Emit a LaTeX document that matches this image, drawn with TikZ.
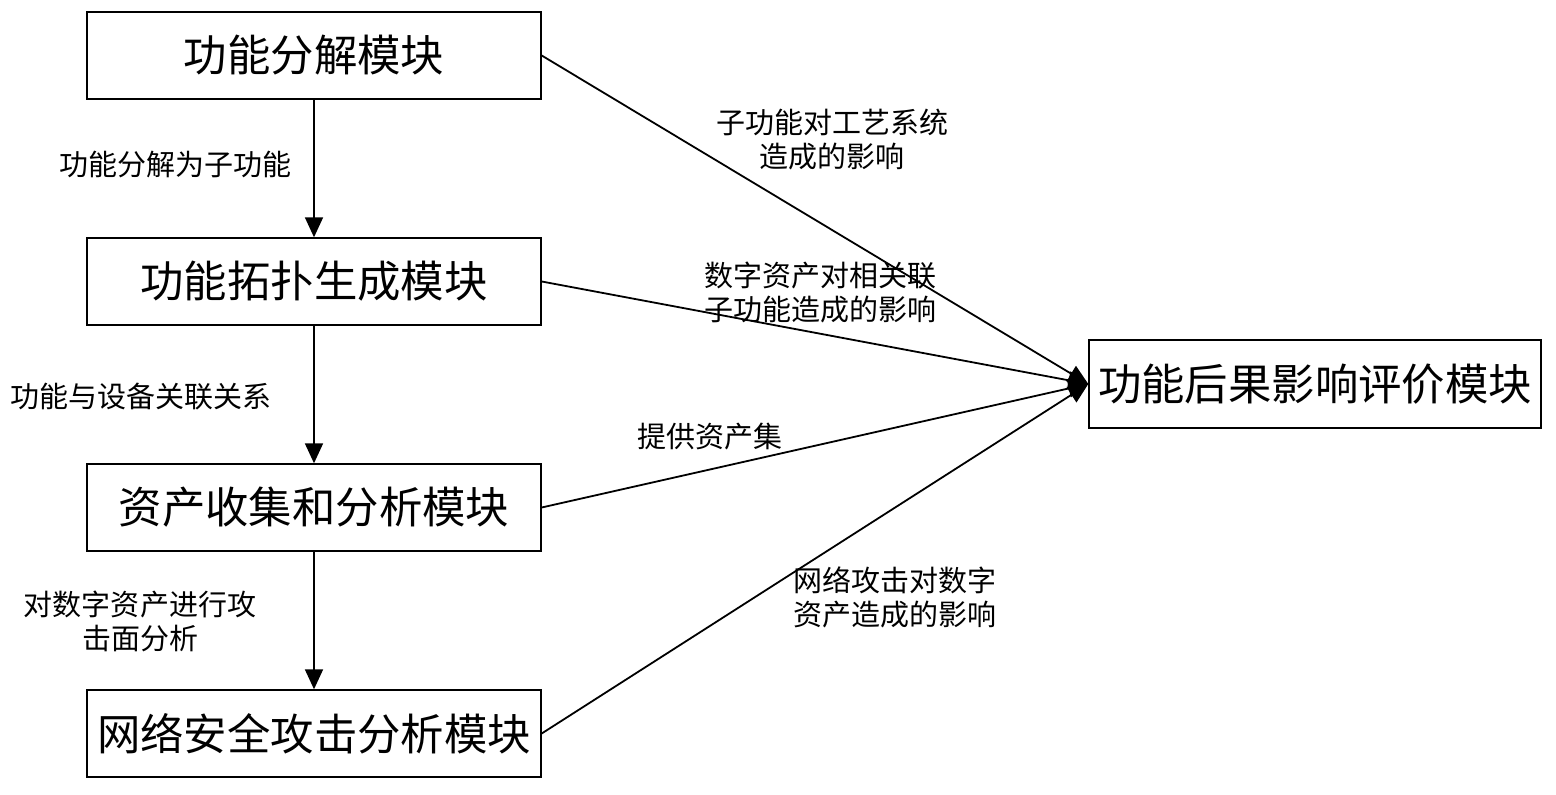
\documentclass[tikz,border=0pt]{standalone}
\usepackage{fontspec}
\newfontfamily\cjk{Noto Sans CJK SC}
\usetikzlibrary{arrows.meta}
\begin{document}
\begin{tikzpicture}[x=0.5pt,y=-0.5pt,
  box/.style={draw,line width=0.7pt,minimum width=227pt,minimum height=43.5pt,inner sep=0pt,font=\cjk\fontsize{21.7pt}{24pt}\selectfont},
  lbl/.style={font=\cjk\fontsize{14.5pt}{17pt}\selectfont,align=center,inner sep=0pt},
  arr/.style={line width=0.9pt,-{Triangle[width=9pt,length=10pt]}}]
\useasboundingbox (0,0) rectangle (1556,795);
\node[box] (a) at (314,55.5) {功能分解模块};
\node[box] (b) at (314,281.5) {功能拓扑生成模块};
\node[box] (c) at (314,507.5) {资产收集和分析模块};
\node[box] (d) at (314,733.5) {网络安全攻击分析模块};
\node[box,minimum width=226pt,minimum height=44pt] (e) at (1315,384) {功能后果影响评价模块};
\draw[arr] (a) -- (b);
\draw[arr] (b) -- (c);
\draw[arr] (c) -- (d);
\draw[arr] (a.east) -- (e.west);
\draw[arr] (b.east) -- (e.west);
\draw[arr] (c.east) -- (e.west);
\draw[arr] (d.east) -- (e.west);
\node[lbl] (l1) at (175,165) {功能分解为子功能};
\node[lbl] (l2) at (141,397) {功能与设备关联关系};
\node[lbl] (l3) at (140,621) {对数字资产进行攻\\击面分析};
\node[lbl] (l4) at (832,140) {子功能对工艺系统\\造成的影响};
\node[lbl] (l5) at (820,292) {数字资产对相关联\\子功能造成的影响};
\node[lbl] (l6) at (710,437) {提供资产集};
\node[lbl] (l7) at (895,597) {网络攻击对数字\\资产造成的影响};
\end{tikzpicture}
\end{document}
